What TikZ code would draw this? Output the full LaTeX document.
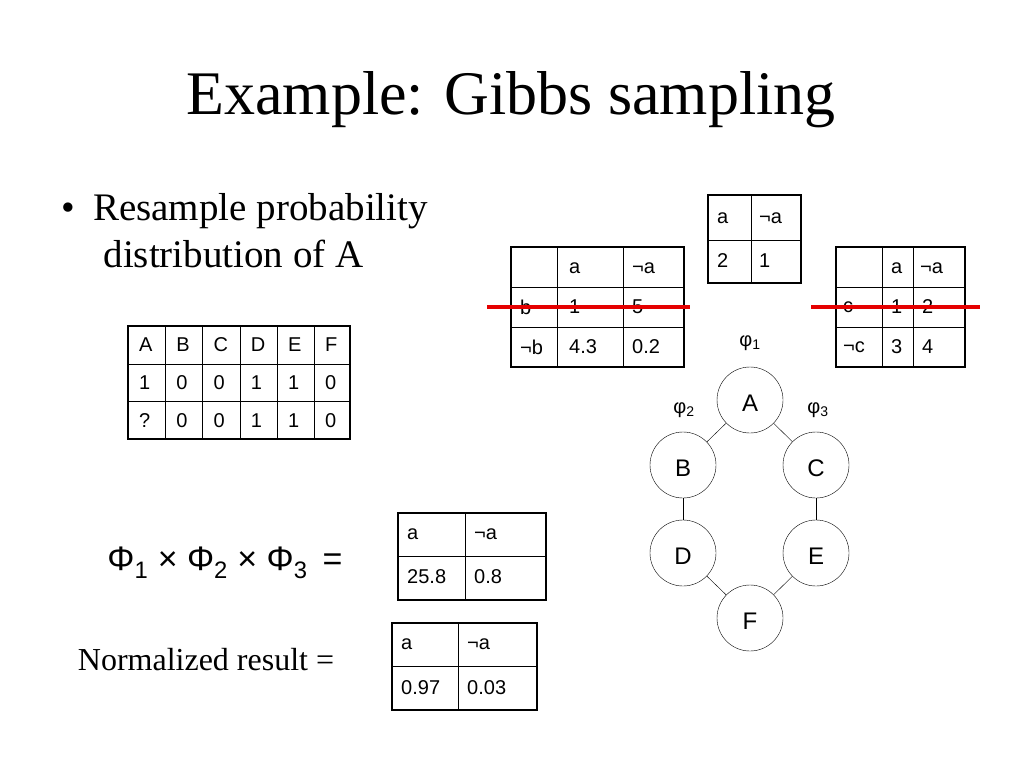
\documentclass[tikz,border=0pt]{standalone}
\usepackage{fontspec}
\setmainfont{Liberation Serif}
\newfontfamily\sansf{Liberation Sans}
\begin{document}
\begin{tikzpicture}[x=1pt, y=-1pt, font=\sansf\fontsize{20}{24}\selectfont]

    % --- STYLES ---
    \tikzset{
        outer/.style = {draw=black, line width=2.6pt},
        inner/.style = {draw=black, line width=0.9pt},
        cell/.style = {anchor=west, inner sep=0pt},
        var/.style = {draw=black, circle, minimum size=66pt, inner sep=0pt, fill=white},
        link/.style = {draw=black, thin},
        strike/.style = {draw=red!90!black, line width=3.5pt},
        phi/.style = {inner sep=0pt}
    }

    \useasboundingbox (0,0) rectangle (1024,768);

    % --- TITLE AND BULLET ---
    \node[font=\rmfamily\fontsize{62}{68}\selectfont] (title) at (511,100) {Example: Gibbs sampling};
    \node[anchor=north west, align=left, font=\rmfamily\fontsize{39}{47}\selectfont] (bullet) at (58,190)
        {\textbullet\hspace{18pt}Resample probability\\\hspace{42pt}distribution of A};

    % --- TABLE: a ---
    \draw[inner] (751,195) -- (751,283) (708,240) -- (801,240);
    \draw[outer] (708,195) rectangle (801,283);
    \node[cell] (t1a) at (717,218) {a};
    \node[cell] (t1n) at (759,218) {¬a};
    \node[cell] (t1x) at (717,261) {2};
    \node[cell] (t1y) at (759,261) {1};

    % --- TABLE: b ---
    \draw[inner] (557,247) -- (557,367) (623,247) -- (623,367) (511,287) -- (684,287) (511,327) -- (684,327);
    \draw[outer] (511,247) rectangle (684,367);
    \foreach \x/\y/\t in {569/268/a, 632/268/¬a, 520/307/b, 569/307/1, 632/307/5,
                          520/347/¬b, 569/347/4.3, 632/347/0.2}
        \node[cell] at (\x,\y) {\t};
    \draw[strike] (487,307) -- (690,307);

    % --- TABLE: c ---
    \draw[inner] (882,247) -- (882,367) (913,247) -- (913,367) (836,287) -- (965,287) (836,327) -- (965,327);
    \draw[outer] (836,247) rectangle (965,367);
    \foreach \x/\y/\t in {891/268/a, 920/268/¬a, 843/307/c, 891/307/1, 922/307/2,
                          843/347/¬c, 891/347/3, 922/347/4}
        \node[cell] at (\x,\y) {\t};
    \draw[strike] (811,307) -- (980,307);

    % --- TABLE: samples ---
    \foreach \x in {165,202,240,277,314} \draw[inner] (\x,326) -- (\x,439);
    \draw[inner] (128,364) -- (350,364) (128,401) -- (350,401);
    \draw[outer] (128,326) rectangle (350,439);
    \foreach \t [count=\i from 0] in {A,B,C,D,E,F} \node[cell] at (139+\i*37.2,345) {\t};
    \foreach \t [count=\i from 0] in {1,0,0,1,1,0} \node[cell] at (139+\i*37.2,383) {\t};
    \foreach \t [count=\i from 0] in {?,0,0,1,1,0} \node[cell] at (139+\i*37.2,421) {\t};

    % --- PRODUCT ---
    \node[font=\sansf\fontsize{34}{38}\selectfont] (prod) at (225,563)
        {Φ\textsubscript{1} × Φ\textsubscript{2} × Φ\textsubscript{3}\, =};
    \draw[inner] (465,513) -- (465,600) (398,556) -- (546,556);
    \draw[outer] (398,513) rectangle (546,600);
    \foreach \x/\y/\t in {407/534/a, 474/534/¬a, 407/577/25.8, 474/577/0.8}
        \node[cell] at (\x,\y) {\t};

    % --- NORMALIZED ---
    \node[font=\rmfamily\fontsize{32}{36}\selectfont] (norm) at (206,660) {Normalized result =};
    \draw[inner] (458,623) -- (458,710) (392,666) -- (537,666);
    \draw[outer] (392,623) rectangle (537,710);
    \foreach \x/\y/\t in {401/644/a, 467/644/¬a, 401/688/0.97, 467/688/0.03}
        \node[cell] at (\x,\y) {\t};

    % --- GRAPH ---
    \node[var] (A) at (750,400) {};
    \node[var] (B) at (683,465) {};
    \node[var] (C) at (816,465) {};
    \node[var] (D) at (683,553) {};
    \node[var] (E) at (816,553) {};
    \node[var] (F) at (750,618) {};
    \foreach \n in {A,B,C,D,E,F} \node[font=\sansf\fontsize{24}{26}\selectfont] at ([yshift=-3pt]\n) {\n};
    \draw[link] (A) -- (B);
    \draw[link] (A) -- (C);
    \draw[link] (B) -- (D);
    \draw[link] (C) -- (E);
    \draw[link] (D) -- (F);
    \draw[link] (E) -- (F);
    \node[phi] (phi1) at (750,343) {φ\textsubscript{1}};
    \node[phi] (phi2) at (684,410) {φ\textsubscript{2}};
    \node[phi] (phi3) at (818,410) {φ\textsubscript{3}};

\end{tikzpicture}
\end{document}
